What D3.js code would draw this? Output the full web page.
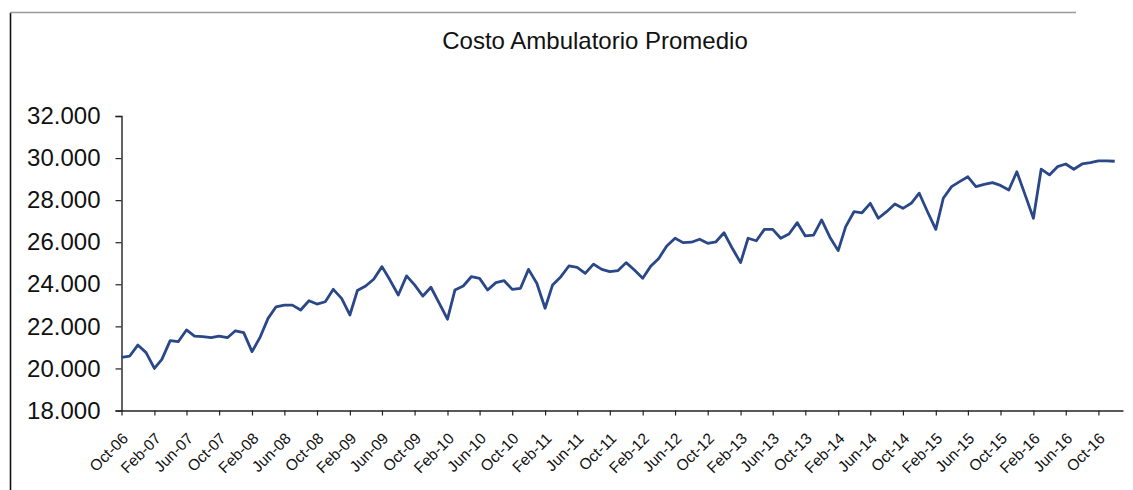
<!DOCTYPE html>
<html>
<head>
<meta charset="utf-8">
<script src="https://cdn.jsdelivr.net/npm/d3@7/dist/d3.min.js"></script>
<style>
  html, body { margin: 0; padding: 0; background: #ffffff; }
  svg { display: block; font-family: "Liberation Sans", Arial, sans-serif; }
</style>
</head>
<body>
<svg id="chart" width="1133" height="490"></svg>
<script>
// Monthly average outpatient cost, Oct-2006 .. Dec-2016
const firstMonth = new Date(2006, 9, 1);
const lastMonth = new Date(2016, 11, 1);

const costValues = [
  20530, 20590, 21110, 20750, 20000, 20430, 21320, 21270, 21830, 21540, 21510, 21460,
  21540, 21460, 21790, 21700, 20800, 21450, 22380, 22930, 23010, 23010, 22780, 23220,
  23060, 23170, 23760, 23330, 22540, 23700, 23920, 24240, 24840, 24200, 23490, 24400,
  23970, 23440, 23860, 23100, 22340, 23730, 23920, 24360, 24280, 23730, 24080, 24170,
  23760, 23810, 24710, 24050, 22860, 23970, 24360, 24870, 24800, 24520, 24960, 24710,
  24600, 24650, 25030, 24680, 24290, 24840, 25230, 25820, 26190, 25980, 26000, 26140,
  25950, 26020, 26450, 25710, 25030, 26190, 26070, 26610, 26610, 26190, 26390, 26930,
  26300, 26340, 27060, 26240, 25600, 26740, 27450, 27400, 27850, 27140, 27450, 27820,
  27610, 27850, 28330, 27450, 26610, 28090, 28640, 28880, 29110, 28640, 28750, 28830,
  28700, 28480, 29350, 28250, 27140, 29470, 29200, 29590, 29720, 29470, 29720, 29780,
  29870, 29870, 29850
];

const xTickLabels = [
  "Oct-06", "Feb-07", "Jun-07", "Oct-07", "Feb-08", "Jun-08", "Oct-08", "Feb-09",
  "Jun-09", "Oct-09", "Feb-10", "Jun-10", "Oct-10", "Feb-11", "Jun-11", "Oct-11",
  "Feb-12", "Jun-12", "Oct-12", "Feb-13", "Jun-13", "Oct-13", "Feb-14", "Jun-14",
  "Oct-14", "Feb-15", "Jun-15", "Oct-15", "Feb-16", "Jun-16", "Oct-16"
];

const yTickValues = [18000, 20000, 22000, 24000, 26000, 28000, 30000, 32000];

const chartTitle = "Costo Ambulatorio Promedio";

// ---- build ----
const months = d3.timeMonth.range(firstMonth, d3.timeMonth.offset(lastMonth, 1));
const series = months.map((m, i) => ({ month: m, value: costValues[i] }));

const svg = d3.select("#chart");

const plot = { left: 121.5, right: 1123, top: 116, bottom: 410.5 };

// one step of axis beyond the last month, as a date axis does
const x = d3.scaleTime()
  .domain([firstMonth, d3.timeMonth.offset(lastMonth, 1)])
  .range([plot.left, plot.right]);

const y = d3.scaleLinear()
  .domain([18000, 32000])
  .range([plot.bottom, plot.top]);

// frame lines
svg.append("line")
  .attr("x1", 10.5).attr("x2", 10.5).attr("y1", 13).attr("y2", 490)
  .attr("stroke", "#111").attr("stroke-width", 1.6);
svg.append("line")
  .attr("x1", 10).attr("x2", 1076).attr("y1", 12.5).attr("y2", 12.5)
  .attr("stroke", "#9a9a9a").attr("stroke-width", 1.4);

// title
svg.append("text")
  .attr("x", 595).attr("y", 49)
  .attr("text-anchor", "middle")
  .attr("font-size", 24)
  .attr("fill", "#111")
  .text(chartTitle);

// y axis
const yFmt = d => d3.format(",")(d).replace(/,/g, ".");
const yAxis = svg.append("g")
  .attr("transform", `translate(${plot.left},0)`)
  .call(d3.axisLeft(y).tickValues(yTickValues).tickFormat(yFmt).tickSize(6).tickPadding(15));
yAxis.select(".domain").attr("stroke", "#222").attr("stroke-width", 1.4);
yAxis.selectAll(".tick line").attr("stroke", "#222").attr("stroke-width", 1.2);
yAxis.selectAll(".tick text")
  .attr("font-size", 24)
  .attr("font-family", "Liberation Sans, Arial, sans-serif")
  .attr("fill", "#111");

// x axis: a tick every fourth month
const xTicks = months.filter((m, i) => i % 4 === 0);
const xAxis = svg.append("g")
  .attr("transform", `translate(0,${plot.bottom})`)
  .call(d3.axisBottom(x)
    .tickValues(xTicks)
    .tickFormat((d, i) => xTickLabels[i])
    .tickSize(5)
    .tickSizeOuter(0));
xAxis.select(".domain").attr("stroke", "#222").attr("stroke-width", 1.6);
xAxis.selectAll(".tick line").attr("stroke", "#222").attr("stroke-width", 1.2);
xAxis.selectAll(".tick text")
  .attr("x", 0).attr("y", 0).attr("dy", null)
  .attr("transform", "translate(7,29) rotate(-45)")
  .style("text-anchor", "end")
  .attr("font-size", 15.5)
  .attr("font-family", "Liberation Sans, Arial, sans-serif")
  .attr("fill", "#111");

// series line
const line = d3.line()
  .x(d => x(d.month))
  .y(d => y(d.value));

svg.append("path")
  .datum(series)
  .attr("fill", "none")
  .attr("stroke", "#2a4787")
  .attr("stroke-width", 2.8)
  .attr("stroke-linejoin", "round")
  .attr("d", line);
</script>
</body>
</html>
